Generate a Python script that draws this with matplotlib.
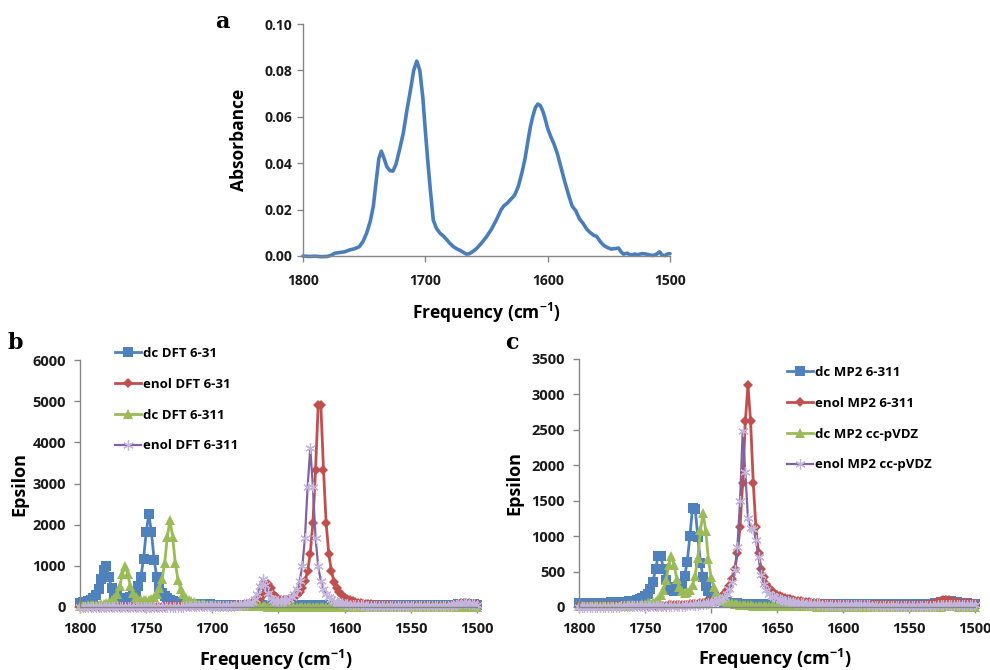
import matplotlib.pyplot as plt
import numpy as np

plt.rcParams['font.family'] = ['Open Sans', 'DejaVu Sans']
plt.rcParams['font.weight'] = 'bold'
plt.rcParams['axes.labelweight'] = 'bold'
plt.rcParams['mathtext.fontset'] = 'custom'
plt.rcParams['mathtext.rm'] = 'Open Sans:bold'
plt.rcParams['mathtext.bf'] = 'Open Sans:bold'

# ---- panel a: measured IR spectrum ----
freq_a = [1800, 1795, 1790, 1785, 1780, 1777, 1774, 1770, 1766, 1762,
          1758, 1754, 1751, 1748, 1745, 1742.5, 1740, 1738, 1736, 1734,
          1731.5, 1729, 1726.5, 1724, 1721, 1718, 1715, 1712, 1709.5, 1707,
          1704.5, 1702, 1700, 1698, 1696, 1693.5, 1691, 1688, 1685, 1682.5,
          1680, 1677, 1674, 1671.5, 1669, 1666.5, 1664, 1661, 1658, 1654,
          1650, 1646, 1642, 1638, 1636, 1633, 1630, 1627, 1624, 1621,
          1618.5, 1616, 1614, 1612, 1610, 1608, 1606, 1604, 1602, 1600,
          1597.5, 1595, 1592, 1589, 1586, 1583, 1580, 1577, 1574, 1571,
          1568, 1565, 1562, 1560, 1557, 1554, 1551, 1548, 1545, 1542,
          1540, 1538, 1535, 1532, 1529, 1526, 1523, 1520, 1517, 1514,
          1511, 1508.5, 1506.5, 1504, 1502, 1500]
absorb_a = [0.0000, -0.0002, -0.0001, -0.0003, -0.0002, 0.0003, 0.0012, 0.0015, 0.0018, 0.0026,
            0.0031, 0.0040, 0.0062, 0.0098, 0.0150, 0.0215, 0.0330, 0.0420, 0.0452, 0.0425,
            0.0385, 0.0368, 0.0366, 0.0395, 0.0460, 0.0530, 0.0630, 0.0720, 0.0800, 0.0840,
            0.0800, 0.0680, 0.0540, 0.0410, 0.0290, 0.0155, 0.0120, 0.0098, 0.0085, 0.0070,
            0.0055, 0.0040, 0.0030, 0.0024, 0.0016, 0.0008, 0.0010, 0.0020, 0.0033, 0.0056,
            0.0083, 0.0115, 0.0155, 0.0200, 0.0215, 0.0228, 0.0245, 0.0262, 0.0300, 0.0360,
            0.0420, 0.0500, 0.0560, 0.0605, 0.0640, 0.0655, 0.0648, 0.0625, 0.0590, 0.0550,
            0.0515, 0.0485, 0.0440, 0.0380, 0.0320, 0.0265, 0.0215, 0.0195, 0.0160, 0.0140,
            0.0115, 0.0100, 0.0088, 0.0085, 0.0062, 0.0045, 0.0036, 0.0030, 0.0032, 0.0034,
            0.0018, 0.0008, 0.0012, 0.0004, 0.0008, 0.0006, 0.0010, 0.0009, 0.0005, 0.0002,
            0.0008, 0.0018, 0.0004, 0.0002, 0.0009, 0.0010]

# ---- panels b and c: computed spectra, sampled every 2 cm-1 from 1800 to 1500 ----
freq = np.arange(1800, 1499, -2)

labels_b = ['dc DFT 6-31', 'enol DFT 6-31', 'dc DFT 6-311', 'enol DFT 6-311']
labels_c = ['dc MP2 6-311', 'enol MP2 6-311', 'dc MP2 cc-pVDZ', 'enol MP2 cc-pVDZ']

dc_dft_631 = [100, 110, 120, 140, 170, 220, 300, 435, 675, 900,
              1000, 720, 455, 325, 258, 220, 207, 206, 219, 246,
              293, 371, 504, 737, 1158, 1815, 2255, 1813, 1152, 728,
              490, 352, 268, 213, 175, 149, 130, 115, 104, 95,
              88, 82, 78, 74, 71, 68, 66, 64, 62, 61,
              60, 59, 58, 57, 56, 56, 55, 55, 54, 54,
              53, 53, 53, 52, 52, 52, 52, 51, 51, 51,
              51, 51, 50, 50, 50, 50, 50, 50, 50, 50,
              50, 50, 50, 50, 50, 50, 50, 50, 50, 50,
              50, 50, 50, 50, 49, 49, 49, 49, 49, 49,
              49, 49, 49, 49, 49, 49, 49, 49, 49, 49,
              48, 48, 48, 48, 48, 48, 48, 48, 48, 48,
              48, 48, 48, 48, 48, 48, 48, 48, 48, 48,
              48, 48, 48, 48, 48, 48, 48, 48, 49, 49,
              50, 52, 56, 62, 70, 76, 74, 70, 66, 62,
              60]
enol_dft_631 = [8, 8, 8, 8, 8, 8, 8, 9, 9, 9,
                9, 9, 9, 9, 9, 9, 10, 10, 10, 10,
                10, 10, 10, 10, 11, 11, 11, 11, 11, 12,
                12, 12, 12, 13, 13, 13, 14, 14, 14, 15,
                15, 16, 16, 17, 17, 18, 18, 19, 20, 21,
                23, 23, 25, 26, 28, 29, 31, 33, 37, 40,
                43, 48, 53, 61, 72, 87, 108, 142, 199, 299,
                454, 559, 465, 322, 234, 190, 171, 167, 174, 189,
                212, 246, 295, 365, 467, 620, 875, 1293, 2041, 3339,
                4904, 4904, 3338, 2039, 1290, 871, 614, 459, 355, 283,
                230, 192, 163, 139, 120, 105, 93, 83, 75, 68,
                62, 57, 52, 48, 45, 42, 40, 37, 35, 33,
                32, 30, 29, 28, 26, 25, 24, 24, 23, 22,
                22, 21, 21, 20, 20, 20, 21, 23, 26, 30,
                36, 45, 58, 75, 95, 105, 100, 90, 80, 72,
                65]
dc_dft_6311 = [30, 32, 34, 38, 41, 45, 51, 57, 67, 79,
               96, 120, 158, 219, 322, 507, 795, 988, 802, 521,
               344, 249, 198, 172, 163, 165, 179, 204, 250, 325,
               452, 675, 1076, 1704, 2123, 1701, 1070, 665, 438, 308,
               227, 175, 140, 115, 96, 82, 72, 64, 56, 50,
               45, 40, 36, 33, 30, 28, 26, 24, 22, 21,
               20, 19, 18, 17, 16, 15, 15, 14, 14, 13,
               13, 12, 12, 11, 11, 11, 10, 10, 10, 9,
               9, 9, 9, 8, 8, 8, 8, 8, 7, 7,
               7, 7, 7, 7, 6, 6, 6, 6, 6, 6,
               6, 5, 5, 5, 5, 5, 5, 5, 5, 5,
               4, 4, 4, 4, 4, 4, 4, 4, 4, 4,
               4, 4, 4, 4, 4, 3, 3, 3, 3, 3,
               3, 3, 3, 3, 3, 3, 3, 3, 3, 3,
               3, 3, 4, 5, 6, 7, 7, 6, 5, 5,
               4]
enol_dft_6311 = [5, 5, 5, 5, 5, 5, 6, 6, 6, 6,
                 6, 6, 7, 7, 7, 7, 7, 8, 8, 8,
                 8, 8, 8, 9, 9, 9, 9, 9, 10, 10,
                 10, 10, 10, 10, 11, 11, 11, 11, 12, 12,
                 13, 13, 14, 14, 15, 15, 16, 16, 17, 18,
                 19, 20, 21, 23, 24, 26, 29, 31, 35, 39,
                 44, 51, 62, 75, 97, 132, 194, 312, 519, 681,
                 527, 329, 219, 167, 144, 135, 138, 148, 168, 200,
                 247, 320, 437, 634, 991, 1683, 2914, 3861, 2912, 1680,
                 986, 628, 429, 311, 235, 185, 149, 123, 104, 89,
                 77, 67, 60, 54, 48, 44, 40, 37, 35, 32,
                 30, 28, 27, 25, 24, 23, 22, 21, 20, 20,
                 19, 19, 18, 18, 17, 17, 17, 16, 16, 16,
                 15, 15, 15, 15, 15, 16, 17, 19, 22, 27,
                 34, 44, 58, 75, 92, 100, 95, 85, 75, 68,
                 60]

dc_mp2_6311 = [56, 56, 57, 57, 58, 58, 59, 60, 61, 62,
               62, 63, 64, 65, 66, 68, 70, 73, 77, 81,
               84, 91, 100, 112, 128, 151, 188, 248, 355, 538,
               720, 725, 530, 382, 288, 245, 231, 239, 267, 327,
               437, 640, 999, 1400, 1390, 991, 627, 417, 298, 227,
               170, 140, 115, 98, 86, 76, 68, 62, 57, 53,
               51, 49, 47, 46, 45, 44, 43, 42, 42, 41,
               41, 40, 40, 40, 39, 39, 39, 39, 38, 38,
               38, 38, 38, 38, 37, 37, 37, 37, 37, 37,
               37, 37, 37, 37, 37, 36, 36, 36, 36, 36,
               36, 36, 36, 36, 36, 36, 36, 36, 36, 36,
               36, 36, 36, 36, 36, 36, 36, 36, 36, 36,
               36, 36, 36, 36, 36, 36, 36, 37, 37, 38,
               38, 39, 40, 42, 45, 50, 57, 66, 75, 82,
               84, 80, 72, 64, 58, 54, 52, 50, 48, 47,
               46]
enol_mp2_6311 = [9, 9, 9, 9, 10, 10, 10, 10, 10, 10,
                 10, 11, 11, 11, 11, 12, 12, 12, 13, 13,
                 13, 14, 14, 15, 15, 16, 16, 17, 17, 18,
                 19, 19, 20, 21, 23, 24, 25, 27, 28, 30,
                 32, 34, 37, 41, 44, 48, 53, 59, 66, 74,
                 84, 96, 112, 131, 156, 189, 234, 297, 393, 532,
                 757, 1131, 1754, 2618, 3135, 2618, 1754, 1131, 757, 532,
                 420, 330, 270, 225, 195, 175, 158, 143, 130, 118,
                 108, 99, 91, 84, 78, 73, 68, 64, 60, 57,
                 54, 51, 48, 46, 44, 42, 40, 39, 37, 36,
                 35, 34, 33, 32, 31, 31, 30, 29, 29, 28,
                 28, 27, 27, 27, 26, 26, 26, 25, 25, 25,
                 25, 25, 25, 25, 25, 25, 26, 26, 27, 28,
                 29, 30, 32, 36, 43, 54, 68, 82, 94, 100,
                 98, 88, 76, 66, 60, 56, 54, 52, 50, 48,
                 47]
dc_mp2_ccpvdz = [10, 10, 10, 10, 11, 11, 11, 11, 12, 12,
                 13, 14, 14, 15, 16, 17, 18, 19, 21, 22,
                 24, 27, 29, 33, 37, 43, 50, 59, 72, 90,
                 118, 163, 240, 376, 587, 715, 599, 401, 279, 221,
                 200, 206, 239, 310, 444, 692, 1083, 1330, 1077, 679,
                 421, 278, 195, 144, 111, 88, 71, 59, 50, 44,
                 36, 32, 29, 26, 24, 22, 20, 18, 17, 16,
                 15, 14, 13, 13, 12, 12, 11, 11, 10, 10,
                 10, 9, 9, 9, 9, 8, 8, 8, 8, 8,
                 7, 7, 7, 7, 7, 7, 6, 6, 6, 6,
                 6, 6, 6, 5, 5, 5, 5, 5, 5, 5,
                 5, 5, 5, 5, 5, 4, 4, 4, 4, 4,
                 4, 4, 4, 4, 4, 4, 4, 4, 4, 4,
                 4, 4, 4, 4, 4, 5, 6, 7, 8, 9,
                 10, 10, 9, 8, 7, 6, 6, 5, 5, 5,
                 5]
enol_mp2_ccpvdz = [5, 5, 5, 5, 5, 5, 6, 6, 6, 6,
                   6, 6, 7, 7, 7, 7, 8, 8, 8, 8,
                   9, 9, 9, 10, 10, 10, 11, 11, 12, 12,
                   13, 13, 14, 14, 15, 16, 16, 17, 18, 19,
                   21, 23, 25, 27, 29, 32, 36, 40, 45, 51,
                   58, 68, 80, 95, 115, 145, 185, 250, 350, 520,
                   850, 1500, 2480, 1900, 1250, 1110, 1100, 950, 700, 450,
                   330, 240, 190, 160, 140, 125, 110, 98, 88, 80,
                   73, 67, 62, 58, 54, 50, 47, 44, 42, 40,
                   38, 36, 35, 33, 32, 31, 30, 29, 28, 27,
                   26, 26, 25, 25, 24, 24, 23, 23, 22, 22,
                   22, 21, 21, 21, 20, 20, 20, 20, 19, 19,
                   19, 19, 19, 19, 19, 19, 19, 19, 19, 19,
                   19, 19, 19, 20, 20, 21, 22, 24, 26, 28,
                   30, 30, 29, 28, 27, 26, 25, 25, 24, 24,
                   24]

series_b = [dc_dft_631, enol_dft_631, dc_dft_6311, enol_dft_6311]
series_c = [dc_mp2_6311, enol_mp2_6311, dc_mp2_ccpvdz, enol_mp2_ccpvdz]

colors = ['#4F81BD', '#C0504D', '#9BBB59', '#8064A2']
marker_styles = [
    dict(marker='s', markersize=6.5, markeredgewidth=0),
    dict(marker='D', markersize=4.8, markeredgewidth=0),
    dict(marker='^', markersize=7, markeredgewidth=0),
    dict(marker=(6, 2, 0), markersize=7.5, markeredgewidth=0.9,
         markeredgecolor='#C4B5DC', markerfacecolor='#C4B5DC'),
]
line_widths = [2.0, 2.0, 2.0, 1.6]
axis_gray = '#868686'


def style_axes(ax, size):
    for side in ['top', 'right']:
        ax.spines[side].set_visible(False)
    for side in ['left', 'bottom']:
        ax.spines[side].set_color(axis_gray)
        ax.spines[side].set_linewidth(1.0)
    ax.tick_params(direction='out', length=4, width=1, color=axis_gray,
                   labelsize=size, labelcolor='#1a1a1a')


xlabel = r'Frequency (cm$^{\mathbf{-1}}$)'

fig = plt.figure(figsize=(9.9, 6.7), dpi=100)

# panel a
ax_a = fig.add_axes([303 / 990, 1 - 256 / 670, 367 / 990, 232 / 670])
ax_a.plot(freq_a, absorb_a, color='#4A7EBB', linewidth=2.6,
          solid_joinstyle='round', solid_capstyle='round', clip_on=False)
ax_a.set_xlim(1800, 1500)
ax_a.set_ylim(0, 0.10)
ax_a.set_xticks([1800, 1700, 1600, 1500])
ax_a.set_yticks([0, 0.02, 0.04, 0.06, 0.08, 0.10])
ax_a.yaxis.set_major_formatter(plt.FormatStrFormatter('%.2f'))
style_axes(ax_a, 10)
ax_a.tick_params(axis='x', pad=9)
ax_a.tick_params(axis='y', pad=4)
ax_a.set_ylabel('Absorbance', fontsize=12.5)
ax_a.yaxis.set_label_coords(-0.151, 0.5)
ax_a.set_xlabel(xlabel, fontsize=12.5, va='top')
ax_a.xaxis.set_label_coords(0.499, -0.195)

# panels b and c
panels = [
    ([80 / 990, 1 - 607 / 670, 397 / 990, 247 / 670], series_b, labels_b,
     6000, 1000, (115 / 990, 1 - 347 / 670), -0.131, -0.165),
    ([579 / 990, 1 - 607 / 670, 396 / 990, 248 / 670], series_c, labels_c,
     3500, 500, (787 / 990, 1 - 366 / 670), -0.141, -0.162),
]

for ax_rect, series, labels, ymax, ystep, legend_pos, ylab_x, xlab_y in panels:
    ax = fig.add_axes(ax_rect)
    for vals, lab, col, ms, lw in zip(series, labels, colors, marker_styles, line_widths):
        ax.plot(freq, vals, color=col, linewidth=lw, label=lab,
                clip_on=False, **ms)
    ax.set_xlim(1800, 1500)
    ax.set_ylim(0, ymax)
    ax.set_xticks(np.arange(1800, 1499, -50))
    ax.set_yticks(np.arange(0, ymax + 1, ystep))
    style_axes(ax, 10.5)
    ax.tick_params(axis='x', pad=7)
    ax.tick_params(axis='y', pad=6)
    ax.set_ylabel('Epsilon', fontsize=13)
    ax.yaxis.set_label_coords(ylab_x, 0.5)
    ax.set_xlabel(xlabel, fontsize=13, va='top')
    ax.xaxis.set_label_coords(0.494, xlab_y)
    ax.legend(loc='upper left', bbox_to_anchor=legend_pos,
              bbox_transform=fig.transFigure, frameon=False, fontsize=9.5,
              handlelength=2.0, handletextpad=0.1, labelspacing=1.35,
              borderpad=0, borderaxespad=0, numpoints=1)

# panel letters
for x, y, letter in [(222, 22, 'a'), (15, 343, 'b'), (512, 343, 'c')]:
    fig.text(x / 990, 1 - y / 670, letter, family='DejaVu Serif',
             fontsize=16, fontweight='bold', va='center', ha='center')

fig.savefig('out.png', dpi=100)
